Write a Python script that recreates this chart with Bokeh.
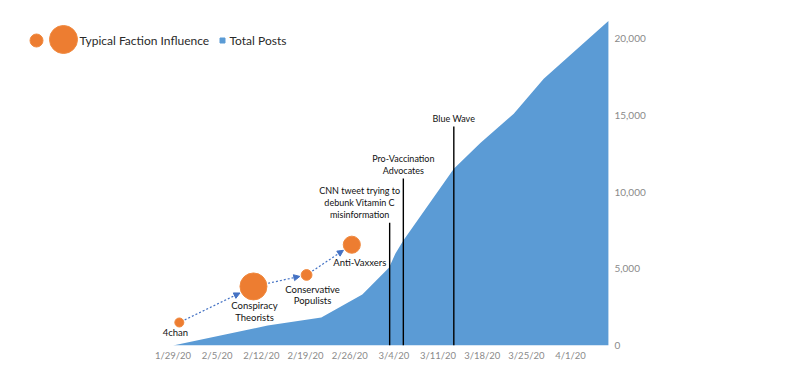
import math
import pandas as pd
from bokeh.plotting import figure
from bokeh.models import (Range1d, FixedTicker, DatetimeTickFormatter, NumeralTickFormatter,
                          Arrow, NormalHead, ColumnDataSource)
from bokeh.core.properties import value
from bokeh.embed import file_html
from bokeh.resources import INLINE

# ---------------- data ----------------
post_dates = ["2020-01-29", "2020-02-13", "2020-02-21 12:00", "2020-02-28", "2020-03-03 06:00",
              "2020-03-04 06:00", "2020-03-05 12:00", "2020-03-13 12:00", "2020-03-17 18:00",
              "2020-03-23", "2020-03-27 18:00", "2020-04-07"]
total_posts = [0, 1300, 1820, 3320, 5080, 6000, 6840, 11530, 13220, 15110, 17390, 21150]

tick_dates = ["2020-01-29", "2020-02-05", "2020-02-12", "2020-02-19", "2020-02-26",
              "2020-03-04", "2020-03-11", "2020-03-18", "2020-03-25", "2020-04-01"]
y_ticks = [0, 5000, 10000, 15000, 20000]

faction_names = ["4chan", "Conspiracy\nTheorists", "Conservative\nPopulists", "Anti-Vaxxers"]
faction_dates = ["2020-01-30", "2020-02-10 18:00", "2020-02-19 04:00", "2020-02-26 08:00"]
faction_posts = [1500, 3850, 4600, 6570]
faction_influence = [1.0, 3.0, 1.2, 1.9]

event_names = ["CNN tweet trying to\ndebunk Vitamin C\nmisinformation",
               "Pro-Vaccination\nAdvocates", "Blue Wave"]
event_dates = ["2020-03-03 08:00", "2020-03-05 12:00", "2020-03-13 12:00"]
event_heights = [8010, 10880, 14270]

# ---------------- layout / style ----------------
FONT = "Lato"
BLUE = "#5B9BD5"
ORANGE = "#ED7D31"
ARROW_BLUE = "#4472C4"
W, H = 792, 372
ML, MR, MT, MB = 8, 182, 8, 27
FW, FH = W - ML - MR, H - MT - MB

def ms(s):
    return pd.Timestamp(s).value / 1e6

def to_dt(lst):
    return pd.to_datetime(lst, format="mixed")

DAY = 86400000.0
t0 = ms(tick_dates[0])
xs, xe = t0 - 26.07 * DAY, t0 + 69.33 * DAY
ys, ye = 0, 21969

p = figure(width=W, height=H, x_axis_type="datetime", x_range=Range1d(xs, xe),
           y_range=Range1d(ys, ye), y_axis_location="right",
           output_backend="svg", toolbar_location=None,
           min_border_left=ML, min_border_right=MR, min_border_top=MT, min_border_bottom=MB)
p.outline_line_color = None
p.grid.visible = False
p.background_fill_color = "white"
p.border_fill_color = "white"

# pixel-space helper range for the legend (page-like coordinates)
p.extra_x_ranges = {"px": Range1d(ML, ML + FW)}
p.extra_y_ranges = {"px": Range1d(MT + FH, MT)}

def px_x(t):
    return ML + (t - xs) / (xe - xs) * FW

def px_y(v):
    return MT + FH - (v - ys) / (ye - ys) * FH

# area
p.varea(x=to_dt(post_dates), y1=0, y2=total_posts, fill_color=BLUE)

# event lines
ev_src = ColumnDataSource(dict(x=to_dt(event_dates), top=event_heights, text=event_names,
                               dx=[-30, 0, 0]))
p.segment(x0="x", y0=0, x1="x", y1="top", source=ev_src, line_color="black", line_width=1.4)
p.text(x="x", y="top", text="text", source=ev_src, x_offset="dx", y_offset=-3,
       text_align="center", text_baseline="bottom", text_font=value(FONT),
       text_font_size="9px", text_color="#111111", text_line_height=1.08)

# faction arrows (edge to edge)
f_ms = [ms(d) for d in faction_dates]
sizes = [9 * v for v in faction_influence]
cx = [px_x(t) for t in f_ms]
cy = [px_y(v) for v in faction_posts]
for i in range(len(cx) - 1):
    dx, dy = cx[i + 1] - cx[i], cy[i + 1] - cy[i]
    L = math.hypot(dx, dy)
    ux, uy = dx / L, dy / L
    r1, r2 = sizes[i] / 2 + 1.5, sizes[i + 1] / 2 + 1.5
    p.add_layout(Arrow(x_start=cx[i] + ux * r1, y_start=cy[i] + uy * r1,
                       x_end=cx[i + 1] - ux * r2, y_end=cy[i + 1] - uy * r2,
                       x_range_name="px", y_range_name="px",
                       line_color=ARROW_BLUE, line_width=1.2, line_dash="2 2",
                       end=NormalHead(size=6, fill_color=ARROW_BLUE, line_color=ARROW_BLUE)))

# faction circles
f_src = ColumnDataSource(dict(x=to_dt(faction_dates), y=faction_posts, size=sizes,
                              text=faction_names, dx=[-4, 1, 6, 8], dy=[5, 14, 9, 12]))
p.scatter(x="x", y="y", size="size", source=f_src, fill_color=ORANGE, line_color="#F08A40",
          line_width=1)
p.text(x="x", y="y", text="text", source=f_src, x_offset="dx", y_offset="dy",
       text_align="center", text_baseline="top", text_font=value(FONT),
       text_font_size="9.5px", text_color="#111111", text_line_height=1.05)

# legend (pixel-space)
p.scatter(x=[36, 63], y=[40, 39], size=[13, 28], fill_color=ORANGE, line_color="#F08A40",
          x_range_name="px", y_range_name="px")
p.scatter(x=[222], y=[40], size=5, marker="square", fill_color=BLUE, line_color=BLUE,
          x_range_name="px", y_range_name="px")
p.text(x=[79, 229], y=[40, 40], text=["Typical Faction Influence", "Total Posts"],
       x_range_name="px", y_range_name="px", text_baseline="middle", text_align="left",
       text_font=value(FONT), text_font_size="12px", text_color="#2a2a2a")

# axes
xa = p.xaxis[0]
xa.ticker = FixedTicker(ticks=[ms(d) for d in tick_dates])
fmt = "%-m/%-d/%y"
xa.formatter = DatetimeTickFormatter(days=fmt, months=fmt, hours=fmt, years=fmt, minutes=fmt)
ya = p.yaxis[0]
ya.ticker = FixedTicker(ticks=y_ticks)
ya.formatter = NumeralTickFormatter(format="0,0")
for ax in (xa, ya):
    ax.axis_line_color = None
    ax.major_tick_line_color = None
    ax.minor_tick_line_color = None
    ax.major_tick_out = 0
    ax.major_tick_in = 0
    ax.major_label_text_font = FONT
    ax.major_label_text_color = "#8a8a8a"
xa.major_label_text_font_size = "9.5px"
ya.major_label_text_font_size = "10px"
xa.major_label_standoff = 4
ya.major_label_standoff = 4

open("out.html", "w").write(file_html(p, INLINE))
